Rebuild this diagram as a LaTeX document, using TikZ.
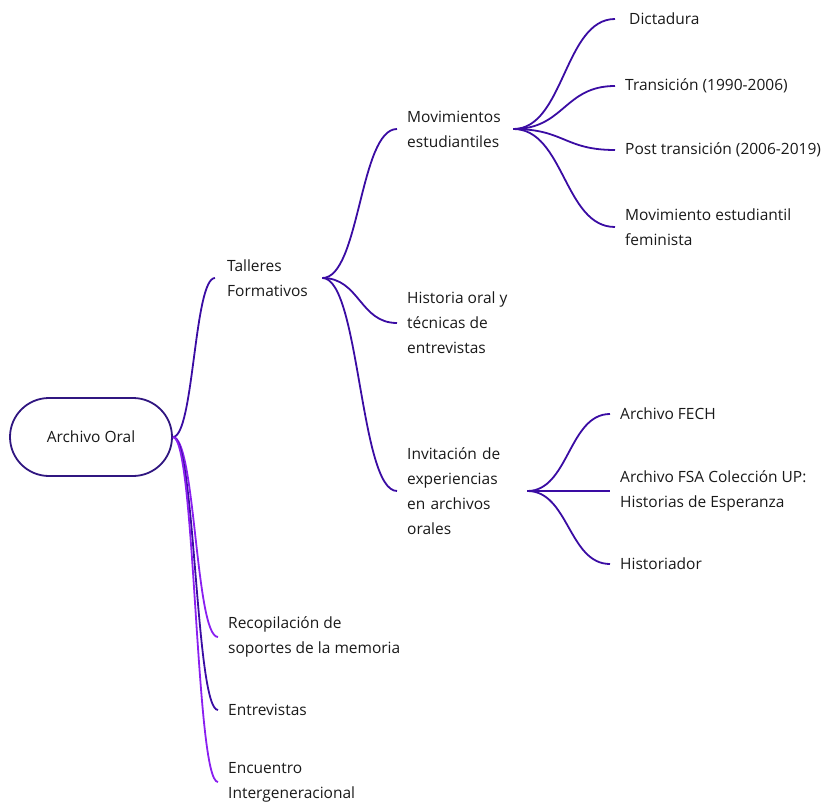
\documentclass[tikz,border=0pt]{standalone}
\usepackage{fontspec}
\setmainfont{Open Sans}
\usetikzlibrary{calc}
\definecolor{mmindigo}{RGB}{58,12,163}
\definecolor{mmviolet}{RGB}{138,31,240}
\definecolor{rootline}{RGB}{48,22,128}
\tikzset{
  topic/.style={anchor=west, inner xsep=10pt, inner ysep=0pt, align=left,
    font=\fontsize{15.5}{25}\selectfont, text=black!90},
  link/.style={draw=mmindigo, line width=1.8pt,
    to path={let \p1=(\tikztostart), \p2=(\tikztotarget) in
      .. controls ({0.5*\x1+0.5*\x2},\y1) and ({0.5*\x1+0.5*\x2},\y2) .. (\tikztotarget)}},
}
\begin{document}
\begin{tikzpicture}[x=1pt,y=-1pt]
\useasboundingbox (0,0) rectangle (825,805);
\node[draw=rootline, line width=1.8pt, rounded corners=39pt, minimum width=162pt,
  minimum height=78pt, font=\fontsize{15.5}{25}\selectfont, text=black!90] (root) at (91,437) {Archivo Oral};
\node[topic, text width=83pt, inner xsep=12pt] (talleres) at (215,278) {Talleres\\Formativos};
\node[topic] (recop) at (218,637) {Recopilación de\\soportes de la memoria};
\node[topic] (entrev) at (218,710) {Entrevistas};
\node[topic] (encuentro) at (218,782) {Encuentro\\Intergeneracional};
\node[topic, text width=96pt] (mov) at (397,129) {Movimientos\\estudiantiles};
\node[topic] (historia) at (397,323) {Historia oral y\\técnicas de\\entrevistas};
\node[topic, text width=110pt] (invit) at (397,491) {Invitación de\\experiencias\\en archivos\\orales};
\node[topic, inner xsep=14pt] (dict) at (615,19) {Dictadura};
\node[topic] (trans) at (615,86) {Transición (1990-2006)};
\node[topic] (post) at (615,150) {Post transición (2006-2019)};
\node[topic] (movfem) at (615,227) {Movimiento estudiantil\\feminista};
\node[topic] (fech) at (610,414) {Archivo FECH};
\node[topic] (fsa) at (610,491) {Archivo FSA Colección UP:\\Historias de Esperanza};
\node[topic] (histo) at (610,564) {Historiador};
\draw[link] (root.east) to (talleres.west);
\draw[link, draw=mmviolet] (root.east) to (recop.west);
\draw[link] (root.east) to (entrev.west);
\draw[link, draw=mmviolet] (root.east) to (encuentro.west);
\draw[link] (talleres.east) to (mov.west);
\draw[link] (talleres.east) to (historia.west);
\draw[link] (talleres.east) to (invit.west);
\draw[link] (mov.east) to (dict.west);
\draw[link] (mov.east) to (trans.west);
\draw[link] (mov.east) to (post.west);
\draw[link] (mov.east) to (movfem.west);
\draw[link] (invit.east) to (fech.west);
\draw[link] (invit.east) to (fsa.west);
\draw[link] (invit.east) to (histo.west);
\end{tikzpicture}
\end{document}
